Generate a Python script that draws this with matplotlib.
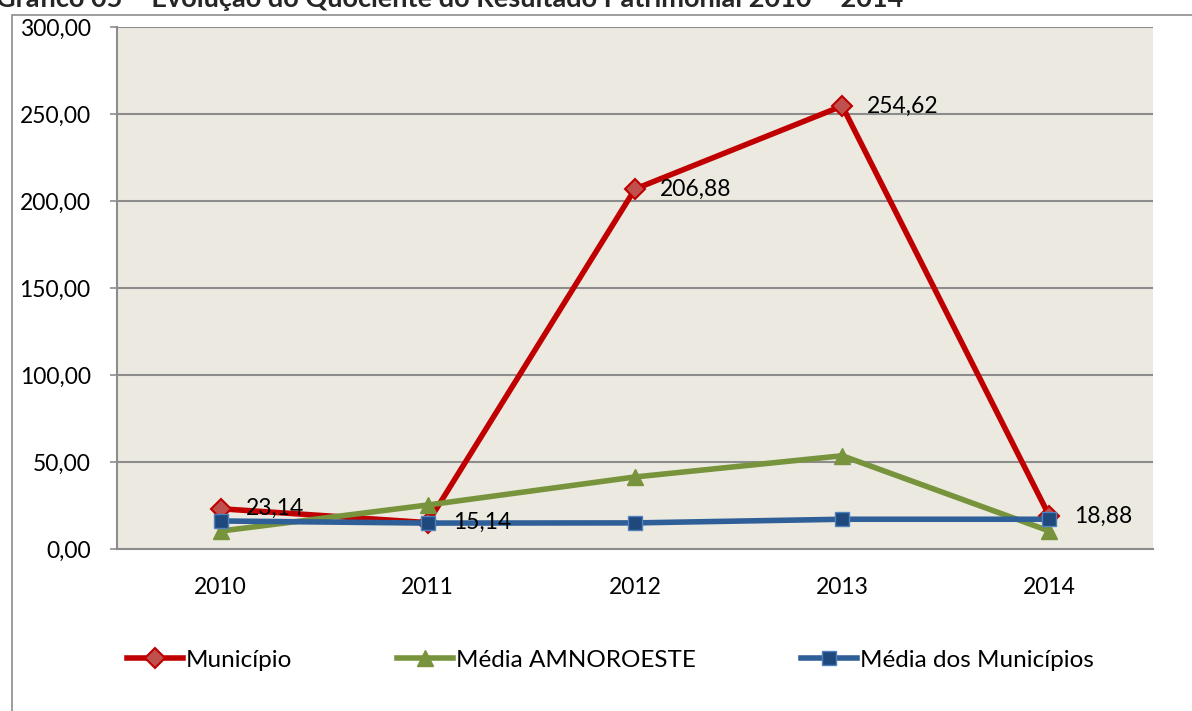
import matplotlib.pyplot as plt
from matplotlib.patches import Rectangle

plt.rcParams['font.family'] = ['Lato', 'DejaVu Sans']

anos = ['2010', '2011', '2012', '2013', '2014']
municipio = [23.14, 15.14, 206.88, 254.62, 18.88]
media_amnoroeste = [10.3, 25.3, 41.4, 53.6, 10.3]
media_municipios = [16.1, 14.9, 15.0, 17.1, 17.1]
rotulos = ['23,14', '15,14', '206,88', '254,62', '18,88']
yticks = [0, 50, 100, 150, 200, 250, 300]

fig = plt.figure(figsize=(11.92, 7.11), dpi=100)
W, H = 1192, 711
# plot area in pixels: x 117..1153, y 27..549
ax = fig.add_axes([117 / W, 1 - 549 / H, (1153 - 117) / W, (549 - 27) / H])
ax.set_facecolor('#ECEAE0')

# outer chart border (partially cut off in the reference)
fig.patches.append(Rectangle((12 / W, -0.1), 1.2, 1 - 15 / H + 0.1,
                             transform=fig.transFigure, fill=False,
                             edgecolor='#8C8C8C', linewidth=1.2, zorder=0))
# title, cut off at the top edge as in the reference
fig.text(-4 / W, 1 + 1 / H, 'Gráfico 05 – Evolução do Quociente do Resultado Patrimonial 2010 – 2014',
         fontsize=19.5, fontweight='bold', color='#262626', ha='left', va='center')

x = list(range(len(anos)))
ax.plot(x, municipio, color='#C00000', linewidth=4, marker='D', markersize=10,
        markerfacecolor='#C0504D', markeredgecolor='#C00000', markeredgewidth=1.5,
        label='Município', zorder=3, solid_joinstyle='miter')
ax.plot(x, media_amnoroeste, color='#77933C', linewidth=4, marker='^', markersize=11,
        markerfacecolor='#77933C', markeredgecolor='#77933C',
        label='Média AMNOROESTE', zorder=4)
ax.plot(x, media_municipios, color='#2F5F98', linewidth=4, marker='s', markersize=10,
        markerfacecolor='#1F497D', markeredgecolor='#4F81BD', markeredgewidth=1,
        label='Média dos Municípios', zorder=5)

for xi, v, t in zip(x, municipio, rotulos):
    ax.annotate(t, (xi, v), xytext=(18, 0), textcoords='offset points',
                ha='left', va='center', fontsize=16.5, color='black', zorder=6)

ax.set_xlim(-0.5, 4.5)
ax.set_ylim(0, 300)
ax.set_yticks(yticks)
ax.set_yticklabels([f'{v:.2f}'.replace('.', ',') for v in yticks], fontsize=16.5)
ax.set_xticks(x)
ax.set_xticklabels(anos, fontsize=16.5)
ax.tick_params(axis='x', length=0, pad=20)
ax.tick_params(axis='y', length=5, width=1.2, color='#8C8C8C', pad=14)
ax.yaxis.grid(True, color='#8C8C8C', linewidth=1.5)
ax.set_axisbelow(True)
for s in ['top', 'right']:
    ax.spines[s].set_visible(False)
for s in ['left', 'bottom']:
    ax.spines[s].set_color('#8C8C8C')
    ax.spines[s].set_linewidth(1.5)

leg = fig.legend(loc='center', bbox_to_anchor=(0.512, 1 - 660 / H), ncol=3,
                 frameon=False, fontsize=17.5, handlelength=2.3, handletextpad=0.1,
                 columnspacing=4.35)

fig.savefig('out.png', dpi=100)
